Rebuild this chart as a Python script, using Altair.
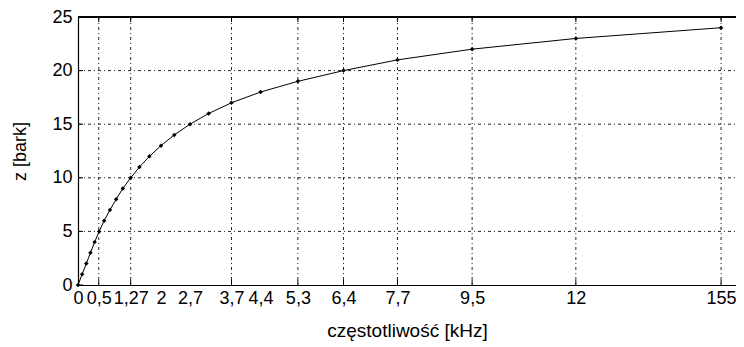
import altair as alt
import pandas as pd

freq_khz = [0, 0.1, 0.2, 0.3, 0.4, 0.51, 0.63, 0.77, 0.92, 1.08, 1.27, 1.48, 1.72,
            2.0, 2.32, 2.7, 3.15, 3.7, 4.4, 5.3, 6.4, 7.7, 9.5, 12.0, 15.5]
bark = list(range(0, 25))

x_ticks = [0, 0.5, 1.27, 2, 2.7, 3.7, 4.4, 5.3, 6.4, 7.7, 9.5, 12, 15.5]
x_labels = ["0", "0,5", "1,27", "2", "2,7", "3,7", "4,4", "5,3", "6,4", "7,7", "9,5", "12", "155"]
x_grid = [0.5, 1.27, 3.7, 5.3, 6.4, 7.7, 9.5, 12, 15.5]
y_ticks = [0, 5, 10, 15, 20, 25]
y_grid = [5, 10, 15, 20]

df = pd.DataFrame({"f": freq_khz, "z": bark})
xgrid_df = pd.DataFrame({"t": x_grid})
ygrid_df = pd.DataFrame({"t": y_grid})
yticks_df = pd.DataFrame({"t": y_ticks})

label_map = "{" + ",".join(f"'{v}':'{l}'" for v, l in zip(x_ticks, x_labels)) + "}"
label_expr = f"{label_map}[''+datum.value]"

W, H = 658, 268
FONT = "Liberation Sans"
DASH = [3, 3, 1, 3]

xs = alt.Scale(domain=[0, 15.86], nice=False, zero=False)
ys = alt.Scale(domain=[0, 25], nice=False)

x_axis = alt.Axis(values=x_ticks, labelExpr=label_expr, grid=False, ticks=False,
                  labelPadding=4, labelFontSize=18, labelFont=FONT, labelColor="black",
                  titleFont=FONT, titleFontSize=19, titleFontWeight="normal", titleColor="black",
                  titlePadding=14, domainColor="black", domainWidth=1.2,
                  labelFlush=False, labelOverlap=False)
y_axis = alt.Axis(values=y_ticks, grid=False, ticks=False, labelPadding=6,
                  labelFontSize=18, labelFont=FONT, labelColor="black",
                  titleFont=FONT, titleFontSize=18, titleFontWeight="normal", titleColor="black",
                  titlePadding=22, domainColor="black", domainWidth=1.2,
                  labelFlush=False)

vgrid = alt.Chart(xgrid_df).mark_rule(color="black", strokeWidth=1, strokeDash=DASH, opacity=0.85).encode(
    x=alt.X("t:Q", scale=xs), y=alt.value(0), y2=alt.value(H)
)
hgrid = alt.Chart(ygrid_df).mark_rule(color="black", strokeWidth=1, strokeDash=DASH, opacity=0.85).encode(
    y=alt.Y("t:Q", scale=ys), x=alt.value(0), x2=alt.value(W)
)
bticks = alt.Chart(xgrid_df).mark_rule(color="black", strokeWidth=1).encode(
    x="t:Q", y=alt.value(H), y2=alt.value(H - 5)
)
tticks = alt.Chart(xgrid_df).mark_rule(color="black", strokeWidth=1).encode(
    x="t:Q", y=alt.value(0), y2=alt.value(5)
)
lticks = alt.Chart(yticks_df).mark_rule(color="black", strokeWidth=1).encode(
    y="t:Q", x=alt.value(0), x2=alt.value(5)
)
topborder = alt.Chart(yticks_df).mark_rule(color="black", strokeWidth=1.2).encode(
    y=alt.value(0), x=alt.value(0), x2=alt.value(W)
)
line = alt.Chart(df).mark_line(color="black", strokeWidth=1).encode(
    x=alt.X("f:Q", scale=xs, axis=x_axis, title="częstotliwość [kHz]"),
    y=alt.Y("z:Q", scale=ys, axis=y_axis, title="z [bark]"),
)
pts = alt.Chart(df).mark_point(filled=True, color="black", size=20, shape="diamond", opacity=1).encode(
    x="f:Q", y="z:Q"
)

chart = alt.layer(vgrid, hgrid, bticks, tticks, lticks, topborder, line, pts).properties(
    width=W, height=H,
    autosize=alt.AutoSizeParams(type="none"),
    padding={"left": 70, "top": 9, "right": 0, "bottom": 62},
).configure_view(stroke=None).configure(background="white")

chart.save("out.html", embed_options={"renderer": "svg", "actions": False})
